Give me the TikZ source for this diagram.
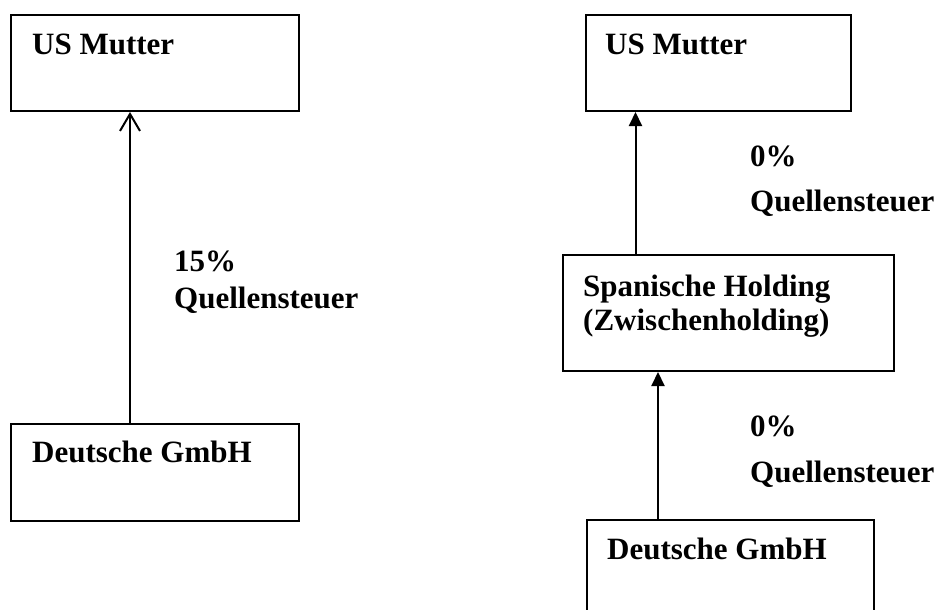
\documentclass[tikz,border=0pt]{standalone}
\usepackage{fontspec}
\setmainfont{Liberation Serif}
\usetikzlibrary{arrows.meta}
\begin{document}
\begin{tikzpicture}[x=1pt,y=-1pt,
  box/.style={draw, line width=2pt, rectangle, inner sep=0pt, anchor=north west},
  txt/.style={anchor=base west, inner sep=0pt, font=\bfseries\fontsize{31}{36}\selectfont},
  openarr/.style={line width=2pt, -{Straight Barb[length=17pt,width=20pt,line width=2pt]}},
  fillarr/.style={line width=2pt, -{Triangle[length=14pt,width=13pt]}}]
\clip (0,0) rectangle (943,610);
% left side
\node[box, minimum width=288pt, minimum height=96pt] (lmut) at (9.5,14) {};
\node[txt] (lmutt) at (32,55) {US Mutter};
\node[box, minimum width=288pt, minimum height=97pt] (ldeu) at (9.5,423) {};
\node[txt] (ldeut) at (32,462) {Deutsche GmbH};
\coordinate (lx) at (130,0);
\draw[openarr] (ldeu.north -| lx) -- (lmut.south -| lx);
\node[txt] (llab1) at (174,271) {15\%};
\node[txt] (llab2) at (174,308) {Quellensteuer};
% right side
\node[box, minimum width=265pt, minimum height=96pt] (rmut) at (585,14) {};
\node[txt] (rmutt) at (605,55) {US Mutter};
\node[box, minimum width=331pt, minimum height=116pt] (span) at (562,254) {};
\node[txt] (spant1) at (583,296) {Spanische Holding};
\node[txt] (spant2) at (583,330) {(Zwischenholding)};
\node[box, minimum width=287pt, minimum height=110pt] (rdeu) at (586,519) {};
\node[txt] (rdeut) at (607,559) {Deutsche GmbH};
\coordinate (ux) at (635.5,0);
\coordinate (dx) at (658,0);
\draw[fillarr] (span.north -| ux) -- (rmut.south -| ux);
\draw[fillarr] (rdeu.north -| dx) -- (span.south -| dx);
\node[txt] (rlab1) at (750,166) {0\%};
\node[txt] (rlab2) at (750,211) {Quellensteuer};
\node[txt] (rlab3) at (750,436) {0\%};
\node[txt] (rlab4) at (750,482) {Quellensteuer};
\end{tikzpicture}
\end{document}
